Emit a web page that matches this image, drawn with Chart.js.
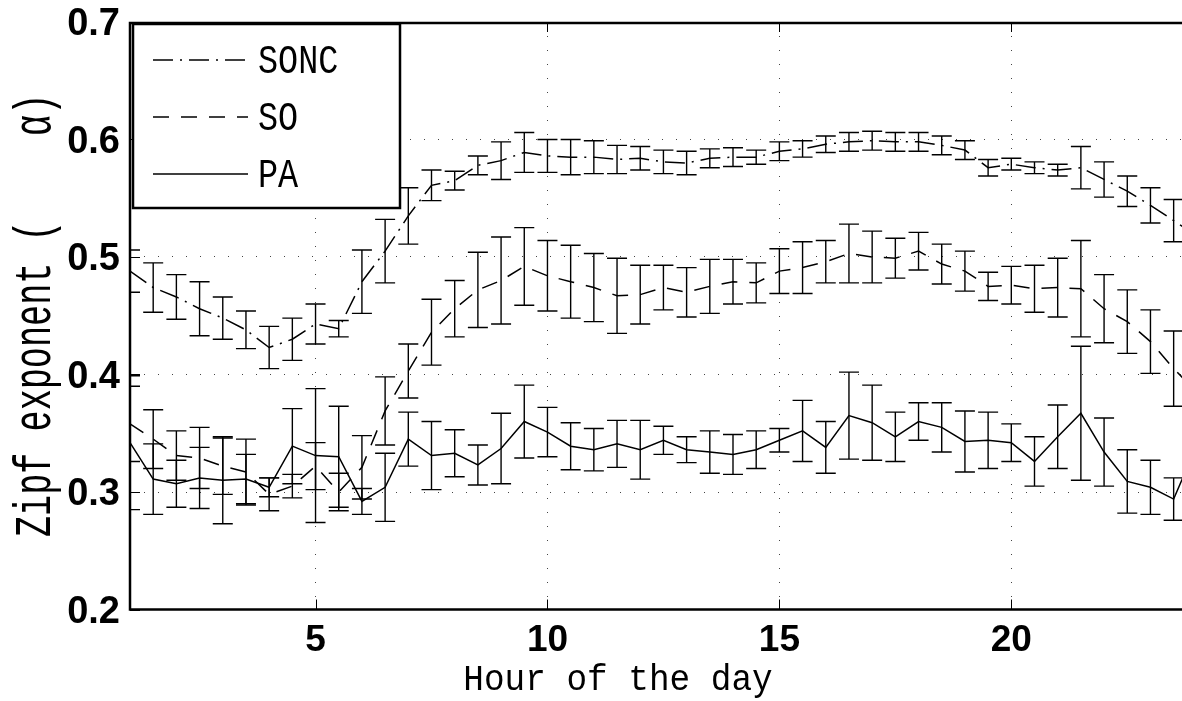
<!DOCTYPE html>
<html>
<head>
<meta charset="utf-8">
<script src="https://cdn.jsdelivr.net/npm/chart.js@4"></script>
<style>
  html, body { margin: 0; padding: 0; background: #fff; overflow: hidden; }
  canvas { display: block; }
</style>
</head>
<body>
<canvas id="zipfChart" width="1182" height="701"></canvas>
<script>
// saat (yarım saatlik adımlar)
const hours = [1, 1.5, 2, 2.5, 3, 3.5, 4, 4.5, 5, 5.5, 6, 6.5, 7, 7.5, 8, 8.5, 9, 9.5, 10, 10.5,
  11, 11.5, 12, 12.5, 13, 13.5, 14, 14.5, 15, 15.5, 16, 16.5, 17, 17.5, 18, 18.5, 19, 19.5, 20, 20.5,
  21, 21.5, 22, 22.5, 23, 23.5, 24];

const soncValues = [0.488, 0.474, 0.466, 0.456, 0.448, 0.438, 0.423, 0.430, 0.443, 0.439,
  0.479, 0.505, 0.535, 0.561, 0.565, 0.578, 0.582, 0.589, 0.586, 0.585,
  0.585, 0.583, 0.584, 0.581, 0.580, 0.584, 0.585, 0.585, 0.590, 0.592,
  0.596, 0.598, 0.599, 0.598, 0.598, 0.595, 0.591, 0.576, 0.579, 0.576,
  0.574, 0.576, 0.566, 0.556, 0.544, 0.531, 0.518];
const soncErrors = [0.018, 0.021, 0.019, 0.023, 0.018, 0.016, 0.018, 0.018, 0.017, 0.007,
  0.027, 0.027, 0.024, 0.013, 0.008, 0.008, 0.016, 0.017, 0.014, 0.015,
  0.014, 0.012, 0.010, 0.010, 0.010, 0.008, 0.008, 0.006, 0.008, 0.007,
  0.007, 0.008, 0.008, 0.008, 0.008, 0.008, 0.008, 0.007, 0.005, 0.005,
  0.005, 0.018, 0.015, 0.013, 0.015, 0.018, 0.018];

const soValues = [0.358, 0.345, 0.331, 0.329, 0.322, 0.317, 0.298, 0.305, 0.322, 0.300,
  0.321, 0.369, 0.403, 0.436, 0.456, 0.472, 0.480, 0.492, 0.484, 0.479,
  0.474, 0.467, 0.468, 0.474, 0.470, 0.475, 0.479, 0.478, 0.488, 0.491,
  0.496, 0.503, 0.500, 0.499, 0.505, 0.494, 0.488, 0.475, 0.476, 0.473,
  0.474, 0.473, 0.456, 0.445, 0.428, 0.405, 0.385];
const soErrors = [0.032, 0.025, 0.021, 0.026, 0.024, 0.028, 0.014, 0.010, 0.020, 0.016,
  0.027, 0.029, 0.023, 0.028, 0.024, 0.032, 0.037, 0.033, 0.030, 0.031,
  0.029, 0.032, 0.025, 0.019, 0.021, 0.023, 0.019, 0.017, 0.019, 0.022,
  0.018, 0.025, 0.022, 0.017, 0.016, 0.017, 0.017, 0.012, 0.016, 0.020,
  0.025, 0.041, 0.029, 0.027, 0.027, 0.032, 0.032];

const paValues = [0.342, 0.311, 0.307, 0.312, 0.310, 0.311, 0.304, 0.339, 0.331, 0.330,
  0.292, 0.304, 0.345, 0.331, 0.333, 0.323, 0.337, 0.360, 0.351, 0.339,
  0.336, 0.341, 0.336, 0.344, 0.336, 0.334, 0.332, 0.336, 0.344, 0.352,
  0.338, 0.365, 0.359, 0.347, 0.360, 0.355, 0.343, 0.344, 0.342, 0.326,
  0.347, 0.367, 0.334, 0.309, 0.304, 0.294, 0.340];
const paErrors = [0.057, 0.030, 0.020, 0.026, 0.037, 0.021, 0.008, 0.032, 0.057, 0.043,
  0.011, 0.029, 0.023, 0.029, 0.020, 0.017, 0.030, 0.031, 0.021, 0.020,
  0.018, 0.020, 0.025, 0.012, 0.011, 0.018, 0.017, 0.016, 0.010, 0.026,
  0.022, 0.037, 0.032, 0.021, 0.016, 0.021, 0.026, 0.024, 0.016, 0.021,
  0.027, 0.057, 0.029, 0.027, 0.023, 0.018, 0.020];

const hourTicks = [5, 10, 15, 20];
const alphaTicks = [0.2, 0.3, 0.4, 0.5, 0.6, 0.7];
const seriesNames = ["SONC", "SO", "PA"];

const xTitle = "Hour of the day";
const yTitleHead = "Zipf exponent (";
const yTitle = "Zipf exponent (    α)";

// çizgi stilleri
const dashes = { SONC: [20, 7, 2, 7], SO: [16, 12], PA: [] };
const series = [
  { name: "SONC", values: soncValues, errors: soncErrors },
  { name: "SO", values: soValues, errors: soErrors },
  { name: "PA", values: paValues, errors: paErrors },
];

const monoFont = '"Liberation Mono", "DejaVu Sans Mono", monospace';

// gerilmiş yazı (matlab fontuna benzesin diye); genişlik refStr'e göre ölçülür
function stretchedText(ctx, str, refStr, x, y, capTarget, widthTarget, align, rotate) {
  ctx.save();
  ctx.font = "34px " + monoFont;
  const cap = ctx.measureText("H").actualBoundingBoxAscent;
  const m = ctx.measureText(refStr);
  const ink = m.actualBoundingBoxLeft + m.actualBoundingBoxRight;
  const sx = widthTarget / ink;
  const sy = capTarget / cap;
  ctx.translate(x, y);
  if (rotate) ctx.rotate(rotate);
  ctx.scale(sx, sy);
  ctx.fillStyle = "#000";
  ctx.textAlign = align;
  ctx.textBaseline = "alphabetic";
  ctx.fillText(str, 0, 0);
  ctx.restore();
}

const errorBars = {
  id: "errorBars",
  afterDatasetsDraw(chart) {
    const { ctx, chartArea: a, scales: { x, y } } = chart;
    ctx.save();
    ctx.beginPath();
    ctx.rect(a.left, a.top, a.right - a.left, a.bottom - a.top);
    ctx.clip();
    ctx.strokeStyle = "#000";
    ctx.lineWidth = 1.4;
    ctx.setLineDash([]);
    series.forEach(s => {
      s.values.forEach((v, i) => {
        const px = x.getPixelForValue(hours[i]);
        const top = y.getPixelForValue(v + s.errors[i]);
        const bot = y.getPixelForValue(v - s.errors[i]);
        ctx.beginPath();
        ctx.moveTo(px, top); ctx.lineTo(px, bot);
        ctx.moveTo(px - 10, top); ctx.lineTo(px + 10, top);
        ctx.moveTo(px - 10, bot); ctx.lineTo(px + 10, bot);
        ctx.stroke();
      });
    });
    ctx.restore();
  }
};

const frameAndLegend = {
  id: "frameAndLegend",
  afterDraw(chart) {
    const { ctx, chartArea: a, scales: { x, y } } = chart;
    ctx.save();
    ctx.setLineDash([]);
    ctx.strokeStyle = "#000";

    // içe doğru tik işaretleri
    ctx.lineWidth = 1;
    ctx.beginPath();
    hourTicks.forEach(v => {
      const px = Math.round(x.getPixelForValue(v)) + 0.5;
      ctx.moveTo(px, a.bottom); ctx.lineTo(px, a.bottom - 10);
      ctx.moveTo(px, a.top); ctx.lineTo(px, a.top + 10);
    });
    alphaTicks.forEach(v => {
      const py = Math.round(y.getPixelForValue(v)) + 0.5;
      ctx.moveTo(a.left, py); ctx.lineTo(a.left + 10, py);
    });
    ctx.stroke();

    // çerçeve
    ctx.lineWidth = 2.5;
    ctx.beginPath();
    ctx.moveTo(a.right + 2, a.top + 1);
    ctx.lineTo(a.left, a.top + 1);
    ctx.lineTo(a.left, a.bottom);
    ctx.lineTo(a.right + 2, a.bottom);
    ctx.stroke();

    // lejant kutusu
    const box = { left: a.left + 3, top: a.top + 2, right: 400, bottom: 208 };
    ctx.fillStyle = "#fff";
    ctx.fillRect(box.left, box.top, box.right - box.left, box.bottom - box.top);
    ctx.lineWidth = 2.5;
    ctx.strokeRect(box.left, box.top, box.right - box.left, box.bottom - box.top);

    const rowY = [60, 117, 174];
    seriesNames.forEach((name, i) => {
      ctx.save();
      ctx.lineWidth = 1.5;
      ctx.setLineDash(dashes[name]);
      ctx.beginPath();
      ctx.moveTo(box.left + 20, rowY[i]);
      ctx.lineTo(248, rowY[i]);
      ctx.stroke();
      ctx.restore();
    });
    seriesNames.forEach((name, i) => {
      stretchedText(ctx, name, "SONC", 258, rowY[i] + 13, 26, 78, "left", 0);
    });

    // eksen başlıkları
    stretchedText(ctx, xTitle, xTitle, 618, 690, 24, 307, "center", 0);
    stretchedText(ctx, yTitle, yTitleHead, 50, 537, 33, 310, "left", -Math.PI / 2);
    ctx.restore();
  }
};

const datasets = series.map(s => ({
  label: s.name,
  data: hours.map((h, i) => ({ x: h, y: s.values[i] })),
  borderColor: "#000",
  borderWidth: 1.5,
  borderDash: dashes[s.name],
  pointRadius: 0,
  tension: 0,
  fill: false,
}));

new Chart(document.getElementById("zipfChart"), {
  type: "line",
  data: { datasets: datasets },
  options: {
    responsive: false,
    animation: false,
    events: [],
    layout: { padding: { top: 22, left: 0, right: 0, bottom: 0 } },
    plugins: { legend: { display: false }, tooltip: { enabled: false } },
    scales: {
      x: {
        type: "linear",
        min: 1,
        max: 23.68,
        afterBuildTicks: s => { s.ticks = hourTicks.map(v => ({ value: v })); },
        afterFit: s => { s.height = 91.5; s.paddingLeft = 0; s.paddingRight = 0; },
        grid: { color: "#444", lineWidth: 1, drawTicks: false },
        border: { display: false, dash: [1, 13] },
        ticks: {
          color: "#000",
          padding: 9,
          maxRotation: 0,
          autoSkip: false,
          font: { family: '"Liberation Sans", Arial, sans-serif', size: 37, weight: "bold" },
        },
      },
      y: {
        type: "linear",
        min: 0.2,
        max: 0.7,
        afterBuildTicks: s => { s.ticks = alphaTicks.map(v => ({ value: v })); },
        afterFit: s => { s.width = 130; s.paddingTop = 0; s.paddingBottom = 0; },
        grid: { color: "#444", lineWidth: 1, drawTicks: false },
        border: { display: false, dash: [1, 13] },
        ticks: {
          color: "#000",
          padding: 10,
          labelOffset: 3,
          callback: v => v.toFixed(1),
          font: { family: '"Liberation Sans", Arial, sans-serif', size: 38, weight: "bold" },
        },
      },
    },
  },
  plugins: [errorBars, frameAndLegend],
});
</script>
</body>
</html>
